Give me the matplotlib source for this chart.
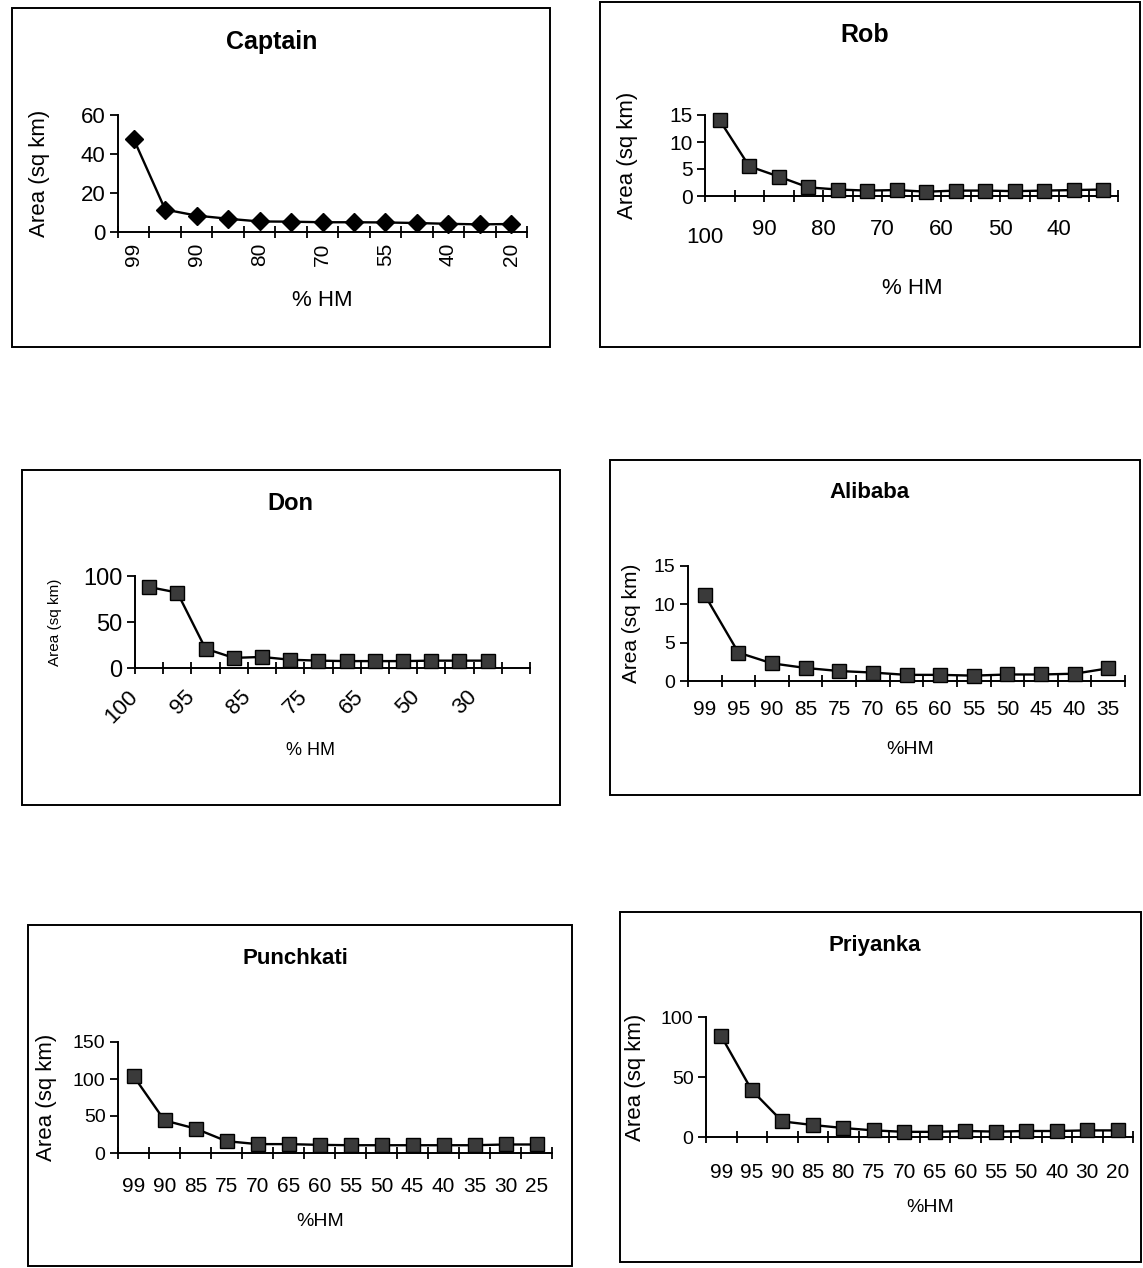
import matplotlib
matplotlib.use("Agg")
import matplotlib.pyplot as plt
from matplotlib.patches import Rectangle
import numpy as np

W, H = 1143, 1268

# ---------------- data ----------------
captain_cats = ["99", "95", "90", "85", "80", "75", "70", "60", "55", "50", "40", "30", "20"]
captain_vals = [47.6, 11.5, 8.4, 6.8, 5.4, 5.3, 5.0, 5.0, 4.9, 4.6, 4.2, 3.9, 4.1]

rob_cats = ["100", "", "90", "", "80", "", "70", "", "60", "", "50", "", "40", ""]
rob_vals = [14.0, 5.5, 3.6, 1.6, 1.2, 1.0, 1.1, 0.8, 1.0, 1.0, 0.9, 1.0, 1.1, 1.2]

don_cats = ["100", "", "95", "", "85", "", "75", "", "65", "", "50", "", "30", ""]
don_vals = [88, 82, 21, 11, 12, 9, 8, 7.5, 7.5, 7.5, 8, 8, 8]

alibaba_cats = ["99", "95", "90", "85", "75", "70", "65", "60", "55", "50", "45", "40", "35"]
alibaba_vals = [11.2, 3.7, 2.3, 1.7, 1.3, 1.1, 0.8, 0.8, 0.7, 0.85, 0.85, 0.95, 1.65]

punch_cats = ["99", "90", "85", "75", "70", "65", "60", "55", "50", "45", "40", "35", "30", "25"]
punch_vals = [104, 44, 33, 16, 12, 12, 11, 10.5, 10.5, 10.5, 10.5, 10.5, 11.5, 11.5]

priya_cats = ["99", "95", "90", "85", "80", "75", "70", "65", "60", "55", "50", "40", "30", "20"]
priya_vals = [84, 39, 13, 10, 7.5, 5.5, 4.3, 4.3, 5, 4.5, 5, 5, 5.5, 5.5]

# ---------------- style ----------------
FAM = ["Liberation Sans", "DejaVu Sans"]

fig = plt.figure(figsize=(W / 100, H / 100), dpi=100)
fig.patch.set_facecolor("white")


def frame(x0, y0, x1, y1):
    fig.patches.append(Rectangle((x0 / W, 1 - y1 / H), (x1 - x0) / W, (y1 - y0) / H,
                                 transform=fig.transFigure, fill=False,
                                 edgecolor="black", linewidth=1.4))


def make_ax(x0, y0, x1, y1):
    ax = fig.add_axes([x0 / W, 1 - y1 / H, (x1 - x0) / W, (y1 - y0) / H])
    ax.set_facecolor("none")
    for s in ("top", "right"):
        ax.spines[s].set_visible(False)
    for s in ("left", "bottom"):
        ax.spines[s].set_linewidth(1.4)
    return ax


def fx(px, x0, x1):
    return (px - x0) / (x1 - x0)


def fy(py, y0, y1):
    return (y1 - py) / (y1 - y0)


def panel(box, axbox, title, title_xy, xlabel, xlabel_xy, ylabel_x, cats, vals,
          yticks, marker, title_weight, tick_fs, xtick_fs, label_fs, ylabel_fs,
          title_fs, label_mode="center", rotation=0, every=1, ncat=None, xpad=10):
    frame(*box)
    x0, y0, x1, y1 = axbox
    ax = make_ax(*axbox)
    n = ncat if ncat is not None else len(cats)
    pos = np.arange(len(vals))
    if marker == "D":
        ax.plot(pos, vals, color="black", lw=1.7, marker="D", ms=9.5,
                mfc="black", mec="black", zorder=3, clip_on=False)
    else:
        ax.plot(pos, vals, color="black", lw=1.7, marker="s", ms=10,
                mfc="#3a3a3a", mec="black", mew=1.0, zorder=3, clip_on=False)
    ax.set_xlim(-0.5, n - 0.5)
    ax.set_ylim(yticks[0], yticks[-1])
    ax.set_yticks(yticks)
    ax.set_yticklabels([str(t) for t in yticks], family=FAM, fontsize=tick_fs)
    ax.tick_params(axis="y", direction="out", length=6, width=1.3, pad=3)
    ax.set_xticks(np.arange(n + 1) - 0.5)
    ax.tick_params(axis="x", which="major", direction="inout", length=9, width=1.3)
    if label_mode == "center":
        ax.set_xticklabels([])
        idx = [i for i in range(len(cats)) if i % every == 0]
        ax.set_xticks(idx, minor=True)
        ax.set_xticklabels([cats[i] for i in idx], minor=True, family=FAM,
                           fontsize=xtick_fs, rotation=rotation)
        ax.tick_params(axis="x", which="minor", length=0, pad=xpad)
    else:
        labs = list(cats) + [""] * (n + 1 - len(cats))
        if rotation:
            ax.set_xticklabels(labs, family=FAM, fontsize=xtick_fs, rotation=rotation,
                               ha="right", va="center", rotation_mode="anchor")
        else:
            ax.set_xticklabels(labs, family=FAM, fontsize=xtick_fs)
        ax.tick_params(axis="x", which="major", pad=xpad)
    ax.text(fx(title_xy[0], x0, x1), fy(title_xy[1], y0, y1), title,
            transform=ax.transAxes, ha="center", va="center", family=FAM,
            fontsize=title_fs, fontweight=title_weight)
    ax.text(fx(xlabel_xy[0], x0, x1), fy(xlabel_xy[1], y0, y1), xlabel,
            transform=ax.transAxes, ha="center", va="center", family=FAM,
            fontsize=label_fs)
    ax.set_ylabel("Area (sq km)", family=FAM, fontsize=ylabel_fs)
    ax.yaxis.set_label_coords(fx(ylabel_x, x0, x1), 0.5)
    return ax


# Captain
panel((12, 8, 550, 347), (118, 115, 527, 232), "Captain", (272, 42), "% HM", (322, 300), 50,
      captain_cats, captain_vals, [0, 20, 40, 60], "D", "bold", 16, 15, 16, 16, 18,
      label_mode="center", rotation=90, every=2, xpad=8)

# Rob
axr = panel((600, 2, 1140, 347), (705, 115, 1118, 196), "Rob", (865, 35), "% HM", (912, 288), 638,
            rob_cats, rob_vals, [0, 5, 10, 15], "s", "bold", 15, 16, 16, 16, 18,
            label_mode="boundary", xpad=12)
axr.xaxis.get_major_ticks()[0].set_pad(18)

# Don
panel((22, 470, 560, 805), (135, 576, 530, 668), "Don", (290, 503), "% HM", (310, 750), 62,
      don_cats, don_vals, [0, 50, 100], "s", "bold", 17, 16, 13, 11, 17,
      label_mode="boundary", rotation=45, ncat=14, xpad=14)

# Alibaba
panel((610, 460, 1140, 795), (688, 566, 1125, 681), "Alibaba", (870, 493), "%HM", (910, 750), 641,
      alibaba_cats, alibaba_vals, [0, 5, 10, 15], "s", "bold", 14, 15, 14, 15, 16,
      label_mode="center", xpad=14)

# Punchkati
panel((28, 925, 572, 1266), (118, 1042, 552, 1153), "Punchkati", (295, 958), "%HM", (320, 1222), 57,
      punch_cats, punch_vals, [0, 50, 100, 150], "s", "bold", 14, 15, 14, 16, 16,
      label_mode="center", xpad=17)

# Priyanka
panel((620, 912, 1141, 1262), (706, 1017, 1133, 1137), "Priyanka", (875, 945), "%HM", (930, 1208), 646,
      priya_cats, priya_vals, [0, 50, 100], "s", "bold", 14, 15, 14, 16, 16,
      label_mode="center", xpad=19)

fig.savefig("out.png", dpi=100, facecolor="white")
